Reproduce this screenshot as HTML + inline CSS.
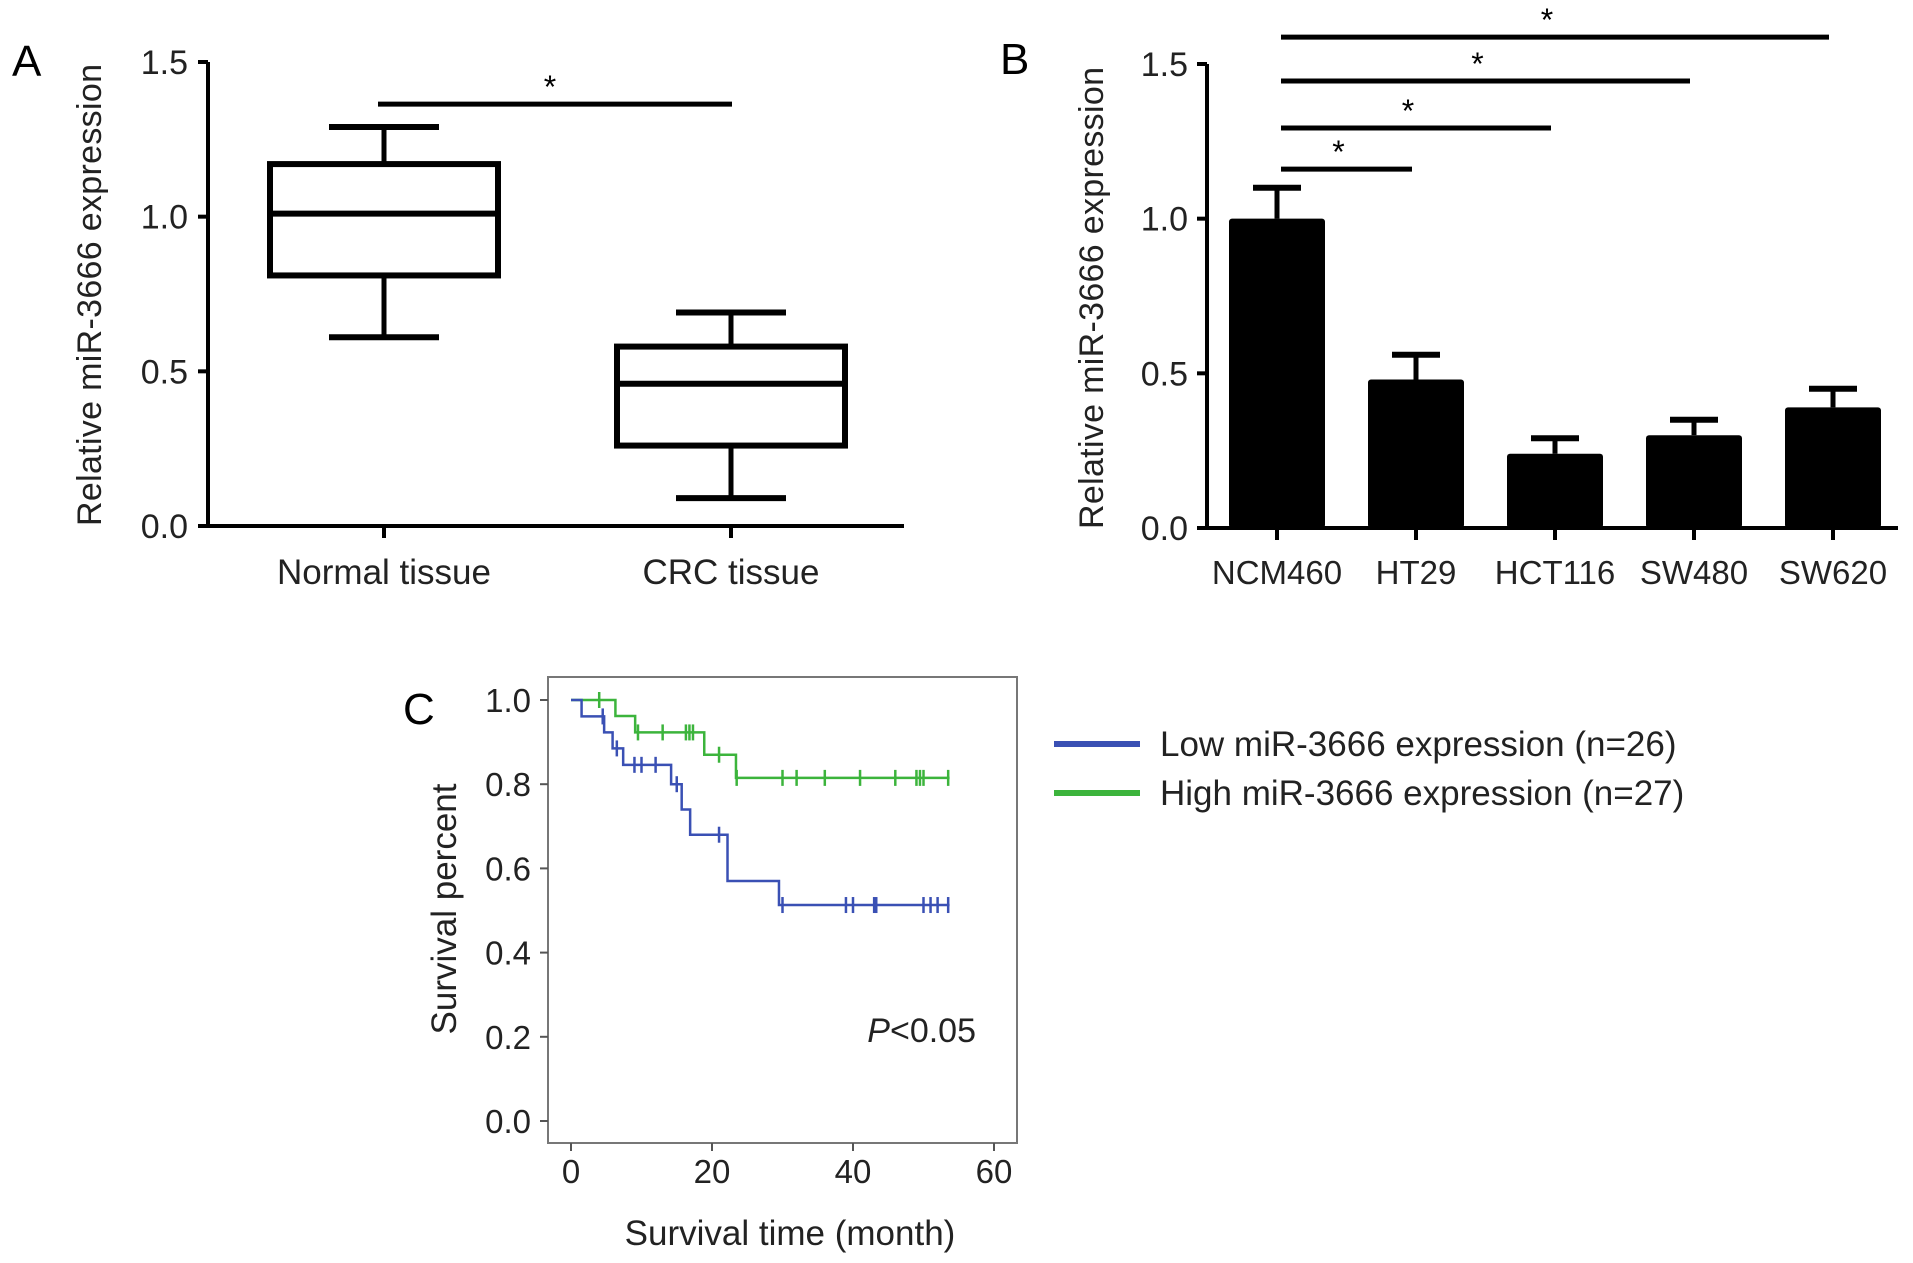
<!DOCTYPE html>
<html><head><meta charset="utf-8"><style>
html,body{margin:0;padding:0;background:#fff}
svg{display:block;font-family:"Liberation Sans",sans-serif}
</style></head><body>
<svg id="fig" width="1913" height="1263" viewBox="0 0 1913 1263">
<g id="pa"></g>
<g id="pb"></g>
<g id="pc"></g>
</svg>
<script>
// Panel A data
const aCats = ["Normal tissue", "CRC tissue"];
const aMax = [1.29, 0.69];
const aQ3 = [1.17, 0.58];
const aMed = [1.01, 0.46];
const aQ1 = [0.81, 0.26];
const aMin = [0.61, 0.09];
const aTicks = ["0.0", "0.5", "1.0", "1.5"];
// Panel B data
const bCats = ["NCM460", "HT29", "HCT116", "SW480", "SW620"];
const bVals = [1.0, 0.48, 0.24, 0.30, 0.39];
const bErr = [0.10, 0.08, 0.05, 0.05, 0.06];
const bSigEnd = [1, 2, 3, 4];
const bSigLevel = [1.16, 1.293, 1.445, 1.587];
const bTicks = ["0.0", "0.5", "1.0", "1.5"];
// Panel C data
const lowT = [0, 1.5, 4.7, 5.9, 7.4, 14.2, 15.7, 16.9, 22.2, 29.5, 53.7];
const lowS = [1.0, 0.961, 0.923, 0.885, 0.846, 0.80, 0.74, 0.68, 0.57, 0.513, 0.513];
const lowCensT = [4.5, 6.5, 9, 10, 12, 15, 21, 30, 39, 40, 43, 43.3, 50, 51, 52, 53.5];
const highT = [0, 6.3, 9.1, 18.9, 23.4, 53.7];
const highS = [1.0, 0.962, 0.923, 0.87, 0.815, 0.815];
const highCensT = [4, 9.5, 13, 16.3, 16.8, 17.3, 21, 23.5, 30, 32, 36, 41, 46, 49, 49.5, 50, 53.5];
const cYTicks = [0, 0.2, 0.4, 0.6, 0.8, 1.0];
const cXTicks = [0, 20, 40, 60];

const NS = "http://www.w3.org/2000/svg";
function mk(parent, tag, attrs, text) {
  const e = document.createElementNS(NS, tag);
  for (const k in attrs) e.setAttribute(k, attrs[k]);
  if (text !== undefined) e.textContent = text;
  parent.appendChild(e);
  return e;
}
function stepFn(ts, ss, t) { let s = ss[0]; for (let i = 0; i < ts.length; i++) if (ts[i] <= t) s = ss[i]; return s; }

// ---------- Panel A ----------
(function(){
  const g = document.getElementById('pa');
  const y = v => 526 - v * (464 / 1.5);
  const xc = [384, 731];
  let e;
  e = mk(g, 'text', {x: 12, y: 76, 'font-size': 44}, 'A');
   
  e = mk(g, 'path', {d: `M208 ${y(1.5)} V526 H904`, fill: 'none', stroke: '#000', 'stroke-width': 4});
   
  aTicks.forEach(t => {
    const v = parseFloat(t);
    e = mk(g, 'line', {x1: 198, x2: 208, y1: y(v), y2: y(v), stroke: '#000', 'stroke-width': 4});
     
    e = mk(g, 'text', {x: 188, y: y(v) + 12, 'font-size': 34, 'text-anchor': 'end', fill: '#222'}, t);
     
  });
  e = mk(g, 'text', {x: 0, y: 0, 'font-size': 34, 'text-anchor': 'middle', fill: '#222', transform: 'translate(101 295) rotate(-90)', textLength: 462}, 'Relative miR-3666 expression');
   
  aCats.forEach((c, i) => {
    const x = xc[i];
    e = mk(g, 'line', {x1: x, x2: x, y1: 526, y2: 538, stroke: '#000', 'stroke-width': 4});
     
    e = mk(g, 'text', {x: x, y: 584, 'font-size': 35, 'text-anchor': 'middle', fill: '#222'}, c);
     
    const bg = mk(g, 'g', {});
     
    mk(bg, 'line', {x1: x, x2: x, y1: y(aMax[i]), y2: y(aQ3[i]), stroke: '#000', 'stroke-width': 5});
    mk(bg, 'line', {x1: x, x2: x, y1: y(aQ1[i]), y2: y(aMin[i]), stroke: '#000', 'stroke-width': 5});
    mk(bg, 'line', {x1: x - 55, x2: x + 55, y1: y(aMax[i]), y2: y(aMax[i]), stroke: '#000', 'stroke-width': 6});
    mk(bg, 'line', {x1: x - 55, x2: x + 55, y1: y(aMin[i]), y2: y(aMin[i]), stroke: '#000', 'stroke-width': 6});
    mk(bg, 'rect', {x: x - 114, y: y(aQ3[i]), width: 228, height: y(aQ1[i]) - y(aQ3[i]), fill: 'none', stroke: '#000', 'stroke-width': 6});
    mk(bg, 'line', {x1: x - 114, x2: x + 114, y1: y(aMed[i]), y2: y(aMed[i]), stroke: '#000', 'stroke-width': 6});
  });
  e = mk(g, 'line', {x1: 378, x2: 732, y1: y(1.364), y2: y(1.364), stroke: '#000', 'stroke-width': 5});
   
  e = mk(g, 'text', {x: 550, y: y(1.364) - 6, 'font-size': 32, 'text-anchor': 'middle'}, '*');
   
})();

// ---------- Panel B ----------
(function(){
  const g = document.getElementById('pb');
  const y = v => 528 - v * (464 / 1.5);
  const x = i => 1277 + i * 139;
  let e;
  e = mk(g, 'text', {x: 1000, y: 74, 'font-size': 44}, 'B');
   
  e = mk(g, 'path', {d: `M1207 ${y(1.5)} V528 H1898`, fill: 'none', stroke: '#000', 'stroke-width': 4});
   
  bTicks.forEach(t => {
    const v = parseFloat(t);
    e = mk(g, 'line', {x1: 1197, x2: 1207, y1: y(v), y2: y(v), stroke: '#000', 'stroke-width': 4});
     
    e = mk(g, 'text', {x: 1188, y: y(v) + 12, 'font-size': 34, 'text-anchor': 'end', fill: '#222'}, t);
     
  });
  e = mk(g, 'text', {x: 0, y: 0, 'font-size': 34, 'text-anchor': 'middle', fill: '#222', transform: 'translate(1103 298) rotate(-90)', textLength: 462}, 'Relative miR-3666 expression');
   
  bCats.forEach((c, i) => {
    const cx = x(i);
    e = mk(g, 'line', {x1: cx, x2: cx, y1: 528, y2: 540, stroke: '#000', 'stroke-width': 4});
     
    e = mk(g, 'text', {x: cx, y: 584, 'font-size': 33, 'text-anchor': 'middle', fill: '#222'}, c);
     
    e = mk(g, 'line', {x1: cx, x2: cx, y1: y(bVals[i]), y2: y(bVals[i] + bErr[i]), stroke: '#000', 'stroke-width': 5});
     
    e = mk(g, 'line', {x1: cx - 24, x2: cx + 24, y1: y(bVals[i] + bErr[i]), y2: y(bVals[i] + bErr[i]), stroke: '#000', 'stroke-width': 6});
     
    e = mk(g, 'rect', {x: cx - 48, y: y(bVals[i]), width: 96, height: 528 - y(bVals[i]), rx: 3, fill: '#000'});
     
  });
  bSigEnd.forEach((j, k) => {
    const yy = y(bSigLevel[k]);
    e = mk(g, 'line', {x1: x(0) + 4, x2: x(j) - 4, y1: yy, y2: yy, stroke: '#000', 'stroke-width': 5});
     
    e = mk(g, 'text', {x: (x(0) + x(j)) / 2 - 8, y: yy - 6, 'font-size': 32, 'text-anchor': 'middle'}, '*');
     
  });
})();

// ---------- Panel C ----------
(function(){
  const g = document.getElementById('pc');
  const x = t => 571 + t * (423 / 60);
  const y = s => 1121 - s * 421;
  let e;
  e = mk(g, 'text', {x: 403, y: 724, 'font-size': 44}, 'C');
   
  e = mk(g, 'rect', {x: 548, y: 677, width: 469, height: 466, fill: 'none', stroke: '#777', 'stroke-width': 2});
   
  cYTicks.forEach(v => {
    e = mk(g, 'line', {x1: 540, x2: 548, y1: y(v), y2: y(v), stroke: '#555', 'stroke-width': 2});
     
    e = mk(g, 'text', {x: 531, y: y(v) + 12, 'font-size': 33, 'text-anchor': 'end', fill: '#222'}, v.toFixed(1));
     
  });
  cXTicks.forEach(t => {
    e = mk(g, 'line', {x1: x(t), x2: x(t), y1: 1143, y2: 1151, stroke: '#555', 'stroke-width': 2});
     
    e = mk(g, 'text', {x: x(t), y: 1183, 'font-size': 33, 'text-anchor': 'middle', fill: '#222'}, String(t));
     
  });
  e = mk(g, 'text', {x: 790, y: 1245, 'font-size': 35, 'text-anchor': 'middle', fill: '#222'}, 'Survival time (month)');
   
  e = mk(g, 'text', {x: 0, y: 0, 'font-size': 35, 'text-anchor': 'middle', fill: '#222', transform: 'translate(456 909) rotate(-90)'}, 'Survival percent');
   
  const curve = (ts, ss, cens, color, name) => {
    let d = `M${x(ts[0])} ${y(ss[0])}`;
    for (let i = 1; i < ts.length; i++) d += ` H${x(ts[i])} V${y(ss[i])}`;
    e = mk(g, 'path', {d: d, fill: 'none', stroke: color, 'stroke-width': 2.5});
     
    cens.forEach(t => {
      const s = stepFn(ts, ss, t);
      e = mk(g, 'line', {x1: x(t), x2: x(t), y1: y(s) - 8, y2: y(s) + 8, stroke: color, 'stroke-width': 2.5});
       
    });
  };
  curve(highT, highS, highCensT, '#3cb43c', 'high');
  curve(lowT, lowS, lowCensT, '#3a50b4', 'low');
  e = mk(g, 'text', {x: 976, y: 1042, 'font-size': 34, 'text-anchor': 'end', fill: '#222'});
   
  mk(e, 'tspan', {'font-style': 'italic'}, 'P');
  mk(e, 'tspan', {}, '<0.05');
  const leg = [['Low miR-3666 expression (n=26)', '#3a50b4', 744], ['High miR-3666 expression (n=27)', '#3cb43c', 793]];
  leg.forEach(([t, c, yy]) => {
    const lg = mk(g, 'g', {});
     
    mk(lg, 'line', {x1: 1054, x2: 1140, y1: yy, y2: yy, stroke: c, 'stroke-width': 6});
    mk(lg, 'text', {x: 1160, y: yy + 12, 'font-size': 35, fill: '#222'}, t);
  });
})();
</script>
</body></html>
